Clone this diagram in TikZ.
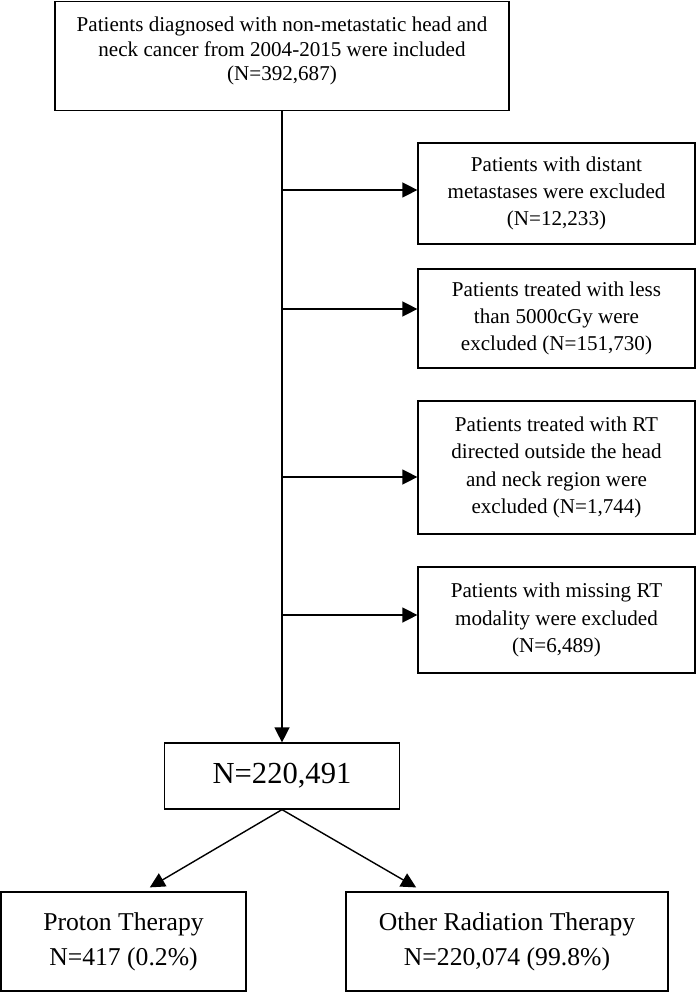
\documentclass[tikz,border=0pt]{standalone}
\usepackage{fontspec}
\setmainfont{Liberation Serif}
\usetikzlibrary{arrows.meta}

\begin{document}
\begin{tikzpicture}[
  >={Triangle[length=8.5pt,width=8.5pt]},
  box/.style={draw, line width=0.7pt, align=center, inner sep=0pt},
  excl/.style={box, minimum width=5.54cm, font=\fontsize{12}{15.5}\selectfont},
  flow/.style={->, line width=0.8pt}
]

\useasboundingbox (0,0) rectangle (13.92,-19.84);

\node (incl) at (5.64,-1.12) [box, minimum width=9.08cm, minimum height=2.18cm, font=\fontsize{12}{14}\selectfont] {Patients diagnosed with non-metastatic head and\\ neck cancer from 2004-2015 were included\\ (N=392,687)\\[-6pt]};

\node (ex1) at (11.13,-3.87) [excl, minimum height=2.02cm] {Patients with distant\\ metastases were excluded\\ (N=12,233)};
\node (ex2) at (11.13,-6.37) [excl, minimum height=1.98cm] {Patients treated with less\\ than 5000cGy were\\ excluded (N=151,730)};
\node (ex3) at (11.13,-9.35) [excl, minimum height=2.66cm] {Patients treated with RT\\ directed outside the head\\ and neck region were\\ excluded (N=1,744)};
\node (ex4) at (11.13,-12.4) [excl, minimum height=2.12cm] {Patients with missing RT\\ modality were excluded\\ (N=6,489)};

\node (total) at (5.64,-15.52) [box, minimum width=4.7cm, minimum height=1.32cm, font=\fontsize{17.4}{20}\selectfont] {N=220,491};

\node (proton) at (2.47,-18.83) [box, minimum width=4.9cm, minimum height=1.98cm, font=\fontsize{14.6}{20}\selectfont] {Proton Therapy\\ N=417 (0.2\%)};
\node (other) at (10.14,-18.83) [box, minimum width=6.44cm, minimum height=1.98cm, font=\fontsize{14.6}{20}\selectfont] {Other Radiation Therapy\\ N=220,074 (99.8\%)};

% main line and exclusions
\draw[flow] (incl.south) -- (total.north);
\draw[flow, transform canvas={yshift=0.07cm}] (incl.south |- ex1.west) -- (ex1.west);
\draw[flow, transform canvas={yshift=0.19cm}] (incl.south |- ex2.west) -- (ex2.west);
\draw[flow, transform canvas={yshift=-0.19cm}] (incl.south |- ex3.west) -- (ex3.west);
\draw[flow, transform canvas={yshift=0.1cm}] (incl.south |- ex4.west) -- (ex4.west);

% split by modality
\draw[flow, shorten >=4.5pt] (total.south) -- ([xshift=0.39cm]proton.north);
\draw[flow, shorten >=4.5pt] (total.south) -- ([xshift=-1.68cm]other.north);
\end{tikzpicture}
\end{document}
